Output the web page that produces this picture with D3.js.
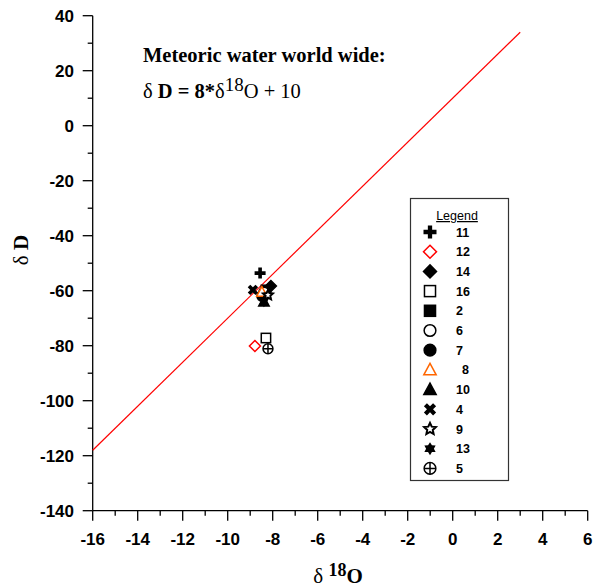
<!DOCTYPE html>
<html><head><meta charset="utf-8">
<script src="https://cdn.jsdelivr.net/npm/d3@7"></script>
<style>body{margin:0;background:#fff}svg{display:block}</style>
</head><body>
<script>
// ---- data ----
const sampleIds = ["11","12","14","16","2","6","7","8","10","4","9","13","5"];
const d18O = [-8.56,-8.79,-8.08,-8.30,-8.30,-8.39,-8.48,-8.48,-8.39,-8.88,-8.21,-8.39,-8.21];
const dD   = [-53.6,-80.1,-58.3,-77.2,-59.7,-60.5,-62.0,-60.5,-64.1,-59.7,-61.6,-64.0,-81.1];
const xTicks = [-16,-14,-12,-10,-8,-6,-4,-2,0,2,4,6];
const yTicks = [-140,-120,-100,-80,-60,-40,-20,0,20,40];
const mwlSlope = 8, mwlIntercept = 10, mwlRange = [-16, 3];

// styles (by sample id)
const markerShape = {"11":"plus","12":"diamond","14":"diamond","16":"square","2":"square","6":"circle","7":"circle","8":"triangle","10":"triangle","4":"x","9":"star","13":"hexagram","5":"crosscircle"};
const markerFilled = {"11":true,"12":false,"14":true,"16":false,"2":true,"6":false,"7":true,"8":false,"10":true,"4":true,"9":false,"13":true,"5":false};
const markerColor = {"12":"#ff0000","8":"#ff6600"};

const W=597,H=587;
const svg=d3.select("body").append("svg").attr("width",W).attr("height",H);
const x=d3.scaleLinear().domain([-16,6]).range([92.7,587.7]);
const y=d3.scaleLinear().domain([-140,40]).range([510.7,15.7]);

// axes
const ax=svg.append("g").attr("stroke","#000").attr("stroke-width",1.3);
ax.append("line").attr("x1",x(-16)).attr("x2",x(6)).attr("y1",y(-140)).attr("y2",y(-140));
ax.append("line").attr("x1",x(-16)).attr("x2",x(-16)).attr("y1",y(-140)).attr("y2",y(40));
d3.range(-16,7,1).forEach(v=>{
  const major = v%2===0;
  ax.append("line").attr("x1",x(v)).attr("x2",x(v)).attr("y1",y(-140)).attr("y2",y(-140)+(major?10:5));
});
d3.range(-140,41,10).forEach(v=>{
  const major = v%20===0;
  ax.append("line").attr("y1",y(v)).attr("y2",y(v)).attr("x1",x(-16)).attr("x2",x(-16)-(major?10:5));
});
const tf="'Liberation Sans',Arial,sans-serif";
svg.append("g").selectAll("text").data(xTicks).join("text")
  .attr("x",d=>x(d)).attr("y",545).attr("text-anchor","middle")
  .attr("font-family",tf).attr("font-weight","bold").attr("font-size",17).text(d=>d);
svg.append("g").selectAll("text").data(yTicks).join("text")
  .attr("x",74).attr("y",d=>y(d)+6).attr("text-anchor","end")
  .attr("font-family",tf).attr("font-weight","bold").attr("font-size",17).text(d=>d);

// axis titles
const sf="'Liberation Serif','Times New Roman',serif";
const xl=svg.append("text").attr("x",338).attr("y",583).attr("text-anchor","middle")
  .attr("font-family",sf).attr("font-size",21);
xl.append("tspan").text("δ ");
xl.append("tspan").attr("font-weight","bold").attr("dy",-7).attr("font-size",18).text("18");
xl.append("tspan").attr("font-weight","bold").attr("dy",7).text("O");
const yl=svg.append("text").attr("transform","translate(28,250) rotate(-90)").attr("text-anchor","middle")
  .attr("font-family",sf).attr("font-size",21);
yl.append("tspan").text("δ ");
yl.append("tspan").attr("font-weight","bold").text("D");

// title
svg.append("text").attr("x",143).attr("y",62).attr("font-family",sf).attr("font-weight","bold")
  .attr("font-size",20.5).text("Meteoric water world wide:");
const eq=svg.append("text").attr("x",143).attr("y",98).attr("font-family",sf).attr("font-size",20.5);
eq.append("tspan").text("δ ");
eq.append("tspan").attr("font-weight","bold").text("D = 8*");
eq.append("tspan").text("δ");
eq.append("tspan").attr("dy",-7).attr("font-size",19).text("18");
eq.append("tspan").attr("dy",7).text("O + 10");

// MWL line
svg.append("line").attr("x1",x(mwlRange[0])).attr("y1",y(mwlSlope*mwlRange[0]+mwlIntercept))
  .attr("x2",x(mwlRange[1])).attr("y2",y(mwlSlope*mwlRange[1]+mwlIntercept))
  .attr("stroke","#ff0000").attr("stroke-width",1.2);

// marker drawing
function drawMarker(g, shape, filled, color, r){
  const fill = filled?color:"#fff";
  const sw = 1.5;
  if(shape==="plus"||shape==="x"){
    const a=r*0.33;
    const p=`M${-a},${-r}H${a}V${-a}H${r}V${a}H${a}V${r}H${-a}V${a}H${-r}V${-a}H${-a}Z`;
    g.append("path").attr("d",p).attr("fill",color).attr("transform",shape==="x"?"rotate(45)":null);
  } else if(shape==="diamond"){
    g.append("path").attr("d",`M0,${-r}L${r},0L0,${r}L${-r},0Z`).attr("fill",fill).attr("stroke",color).attr("stroke-width",sw);
  } else if(shape==="square"){
    const s=r*0.85;
    g.append("rect").attr("x",-s).attr("y",-s).attr("width",2*s).attr("height",2*s).attr("fill",fill).attr("stroke",color).attr("stroke-width",sw);
  } else if(shape==="circle"){
    g.append("circle").attr("r",r*0.9).attr("fill",fill).attr("stroke",color).attr("stroke-width",sw);
  } else if(shape==="triangle"){
    g.append("path").attr("d",`M0,${-r}L${r*0.95},${r*0.75}L${-r*0.95},${r*0.75}Z`).attr("fill",fill).attr("stroke",color).attr("stroke-width",sw).attr("stroke-linejoin","miter");
  } else if(shape==="star"){
    const pts=d3.range(10).map(i=>{const rr=i%2?r*0.45:r*0.95;const a=-Math.PI/2+i*Math.PI/5;return [rr*Math.cos(a),rr*Math.sin(a)];});
    g.append("path").attr("d","M"+pts.join("L")+"Z").attr("fill","#fff").attr("stroke",color).attr("stroke-width",2);
  } else if(shape==="hexagram"){
    const pts=d3.range(12).map(i=>{const rr=i%2?r*0.6:r;const a=-Math.PI/2+i*Math.PI/6;return [rr*Math.cos(a),rr*Math.sin(a)];});
    g.append("path").attr("d","M"+pts.join("L")+"Z").attr("fill",color);
  } else if(shape==="crosscircle"){
    const rr=r*0.9;
    g.append("circle").attr("r",rr).attr("fill","#fff").attr("stroke",color).attr("stroke-width",sw);
    g.append("path").attr("d",`M${-rr},0H${rr}M0,${-rr}V${rr}`).attr("stroke",color).attr("stroke-width",sw);
  }
}

// points
const pts=svg.append("g");
sampleIds.forEach((id,i)=>{
  const g=pts.append("g").attr("transform",`translate(${x(d18O[i])},${y(dD[i])})`);
  drawMarker(g, markerShape[id], markerFilled[id], markerColor[id]||"#000", 5.5);
});

// legend
const lg=svg.append("g");
lg.append("rect").attr("x",410.5).attr("y",198.5).attr("width",98).attr("height",282)
  .attr("fill","#fff").attr("stroke","#333").attr("stroke-width",1.2);
lg.append("text").attr("x",457).attr("y",220).attr("text-anchor","middle").attr("font-family",tf)
  .attr("font-size",12.5).attr("text-decoration","underline").text("Legend");
sampleIds.forEach((id,i)=>{
  const yy=232+i*19.7;
  const g=lg.append("g").attr("transform",`translate(430,${yy})`);
  drawMarker(g, markerShape[id], markerFilled[id], markerColor[id]||"#000", 6.5);
  lg.append("text").attr("x",id==="8"?462:456).attr("y",yy+4.5).attr("font-family",tf).attr("font-weight","bold")
    .attr("font-size",12.5).text(id);
});
</script>
</body></html>
